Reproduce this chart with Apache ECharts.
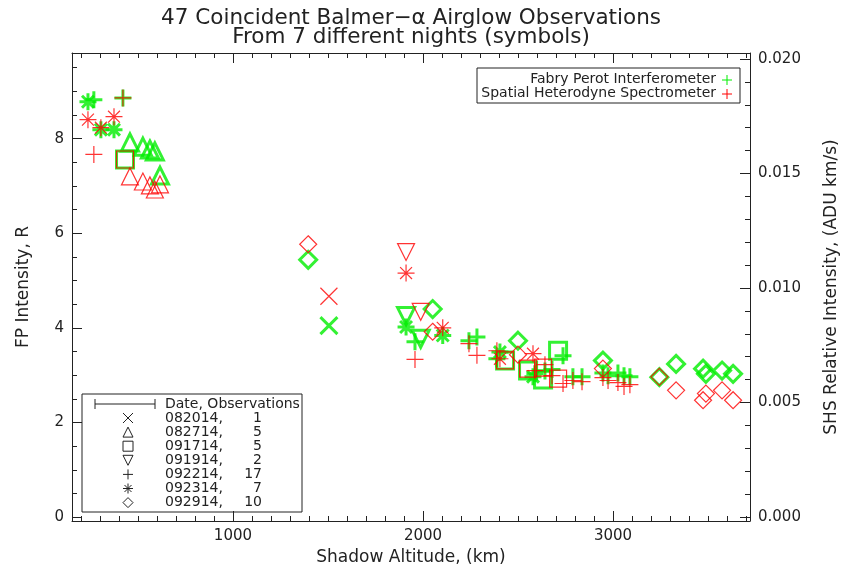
<!DOCTYPE html>
<html><head><meta charset="utf-8">
<script src="https://cdn.jsdelivr.net/npm/echarts@6/dist/echarts.min.js"></script>
<style>html,body{margin:0;padding:0;background:#fff}#c{width:851px;height:571px}</style>
</head><body><div id="c"></div>
<script>
// ---- data (altitude km, FP intensity R, SHS relative intensity) ----
const alt082014 = [1505];
const fp082014  = [4.05];
const shs082014 = [0.00964];

const alt082714 = [458, 526, 563, 589, 616];
const fp082714  = [7.92, 7.83, 7.77, 7.73, 7.22];
const shs082714 = [0.01487, 0.01465, 0.01448, 0.01430, 0.01452];

const alt091714 = [432, 2432, 2553, 2632, 2711];
const fp091714  = [7.56, 3.31, 3.10, 2.91, 3.52];
const shs091714 = [0.01561, 0.00684, 0.00648, 0.00652, 0.00604];

const alt091914 = [1911, 1988];
const fp091914  = [4.25, 3.77];
const shs091914 = [0.01157, 0.00896];

const alt092214 = [268, 421, 1958, 2242, 2284, 2389, 2589, 2642, 2679, 2737, 2789, 2837, 2947, 2974, 3026, 3058, 3089];
const fp092214  = [8.82, 8.86, 3.71, 3.73, 3.81, 3.35, 3.03, 3.09, 3.12, 3.41, 2.97, 2.97, 3.05, 2.99, 3.05, 2.99, 2.97];
const shs092214 = [0.01583, 0.01830, 0.00688, 0.00757, 0.00706, 0.00726, 0.00639, 0.00665, 0.00617, 0.00583, 0.00596, 0.00591, 0.00609, 0.00596, 0.00587, 0.00570, 0.00578];

const alt092314 = [237, 305, 374, 1911, 2104, 2405, 2579];
const fp092314  = [8.78, 8.19, 8.19, 4.02, 3.84, 3.49, 2.97];
const shs092314 = [0.01735, 0.01700, 0.01748, 0.01065, 0.00826, 0.00691, 0.00713];

const alt092914 = [1396, 2051, 2500, 2947, 3244, 3332, 3474, 3489, 3574, 3632];
const fp092914  = [5.44, 4.40, 3.73, 3.31, 2.96, 3.24, 3.14, 3.03, 3.10, 3.03];
const shs092914 = [0.01191, 0.00809, 0.00709, 0.00648, 0.00612, 0.00553, 0.00510, 0.00539, 0.00553, 0.00510];

const dates  = ['082014', '082714', '091714', '091914', '092214', '092314', '092914'];
const counts = [1, 5, 5, 2, 17, 7, 10];

const xTicks = [1000, 2000, 3000];
const yTicksFP = [0, 2, 4, 6, 8];
const yTicksSHS = [0, 0.005, 0.010, 0.015, 0.020];

// ---- styling ----
const P_X = 'path://M0,0L10,10M10,0L0,10';
const P_PLUS = 'path://M5,0L5,10M0,5L10,5';
const P_AST = 'path://M5,0L5,10M0,5L10,5M1.5,1.5L8.5,8.5M8.5,1.5L1.5,8.5';
const symDefs = [
  {sym: P_X, rot: 0, kind: 'x'},
  {sym: 'triangle', rot: 0, kind: 'tri'},
  {sym: 'rect', rot: 0, kind: 'sq'},
  {sym: 'triangle', rot: 180, kind: 'itri'},
  {sym: P_PLUS, rot: 0, kind: 'plus'},
  {sym: P_AST, rot: 0, kind: 'ast'},
  {sym: 'diamond', rot: 0, kind: 'dia'}
];
const groups = [
  [alt082014, fp082014, shs082014],
  [alt082714, fp082714, shs082714],
  [alt091714, fp091714, shs091714],
  [alt091914, fp091914, shs091914],
  [alt092214, fp092214, shs092214],
  [alt092314, fp092314, shs092314],
  [alt092914, fp092914, shs092914]
];
const GREEN = '#00ee00', RED = '#ff0000', INK = '#222';
const FONT = '"DejaVu Sans", sans-serif';

const XMIN = 153, XMAX = 3721;
const YMIN = -0.08, YMAX = 9.81;
const SMIN = -0.000174, SMAX = 0.02026;

function range(a, b, step, skip) {
  const out = [];
  for (let i = 0; a + i * step <= b + 1e-12; i++) {
    const v = +(a + i * step).toFixed(6);
    if (!skip.some(s => Math.abs(s - v) < 1e-9)) out.push(v);
  }
  return out;
}
const xMinor = range(200, 3700, 100, xTicks);
const yMinor = range(0.5, 9.5, 0.5, yTicksFP);
const sMinor = range(0.001, 0.020, 0.001, yTicksSHS);

const series = [];
groups.forEach((g, i) => {
  series.push({
    type: 'scatter', xAxisIndex: 0, yAxisIndex: 0,
    symbol: symDefs[i].sym, symbolRotate: symDefs[i].rot, symbolSize: 17,
    itemStyle: {color: 'rgba(0,0,0,0)', borderColor: GREEN, borderWidth: 3},
    data: g[0].map((x, k) => [x, g[1][k]]), z: 2, silent: true
  });
});
groups.forEach((g, i) => {
  series.push({
    type: 'scatter', xAxisIndex: 0, yAxisIndex: 2,
    symbol: symDefs[i].sym, symbolRotate: symDefs[i].rot, symbolSize: 17,
    itemStyle: {color: 'rgba(0,0,0,0)', borderColor: RED, borderWidth: 1.2},
    data: g[0].map((x, k) => [x, g[2][k]]), z: 3, silent: true
  });
});

const axLine = {show: true, onZero: false, lineStyle: {color: INK, width: 1}};
const noLine = {show: false, onZero: false};
const lbl = {color: INK, fontSize: 15, fontFamily: FONT};
function xa(pos, vals, len, labels, extra) {
  return Object.assign({
    type: 'value', position: pos, min: XMIN, max: XMAX,
    axisLine: extra && extra.line ? axLine : noLine,
    axisTick: {show: true, inside: true, length: len, customValues: vals, lineStyle: {color: INK}},
    axisLabel: labels ? Object.assign({show: true, customValues: vals, margin: 8, formatter: v => String(v)}, lbl) : {show: false},
    splitLine: {show: false}
  }, extra && extra.opt || {});
}
function ya(pos, mn, mx, vals, len, labels, extra) {
  return Object.assign({
    type: 'value', position: pos, min: mn, max: mx,
    axisLine: extra && extra.line ? axLine : noLine,
    axisTick: {show: true, inside: true, length: len, customValues: vals, lineStyle: {color: INK}},
    axisLabel: labels ? Object.assign({show: true, customValues: vals, margin: 8}, lbl, labels) : {show: false},
    splitLine: {show: false}
  }, extra && extra.opt || {});
}

// legend symbol builder (graphic elements)
function symEls(kind, cx, cy, r, color) {
  const st = {stroke: color, lineWidth: 1, fill: 'none'};
  const ln = (x1, y1, x2, y2) => ({type: 'line', shape: {x1: x1, y1: y1, x2: x2, y2: y2}, style: st});
  const pg = pts => ({type: 'polygon', shape: {points: pts}, style: st});
  switch (kind) {
    case 'x': return [ln(cx - r, cy - r, cx + r, cy + r), ln(cx + r, cy - r, cx - r, cy + r)];
    case 'plus': return [ln(cx, cy - r, cx, cy + r), ln(cx - r, cy, cx + r, cy)];
    case 'ast': { const d = r * 0.7; return [ln(cx, cy - r, cx, cy + r), ln(cx - r, cy, cx + r, cy), ln(cx - d, cy - d, cx + d, cy + d), ln(cx + d, cy - d, cx - d, cy + d)]; }
    case 'tri': return [pg([[cx, cy - r], [cx + r, cy + r], [cx - r, cy + r]])];
    case 'itri': return [pg([[cx - r, cy - r], [cx + r, cy - r], [cx, cy + r]])];
    case 'sq': return [pg([[cx - r, cy - r], [cx + r, cy - r], [cx + r, cy + r], [cx - r, cy + r]])];
    case 'dia': return [pg([[cx, cy - r], [cx + r, cy], [cx, cy + r], [cx - r, cy]])];
  }
  return [];
}
const txt = (t, x, y, align, size) => ({type: 'text', style: {text: t, x: x, y: y, textAlign: align, textVerticalAlign: 'middle', font: size + 'px ' + FONT, fill: INK}});

const gfx = [];
gfx.push(txt('47 Coincident Balmer−α Airglow Observations', 411, 18, 'center', 21.5));
gfx.push(txt('From 7 different nights (symbols)', 411, 37, 'center', 21.5));
// top-right legend
gfx.push({type: 'rect', shape: {x: 477, y: 68, width: 263, height: 35}, style: {fill: 'none', stroke: INK, lineWidth: 1}});
gfx.push(txt('Fabry Perot Interferometer', 716, 79, 'right', 14));
gfx.push(txt('Spatial Heterodyne Spectrometer', 716, 93, 'right', 14));
symEls('plus', 727, 80, 5, GREEN).forEach(e => gfx.push(e));
symEls('plus', 727, 94, 5, RED).forEach(e => gfx.push(e));
// bottom-left legend
gfx.push({type: 'rect', shape: {x: 82, y: 394, width: 220, height: 118}, style: {fill: 'none', stroke: INK, lineWidth: 1}});
gfx.push({type: 'line', shape: {x1: 95, y1: 404, x2: 155, y2: 404}, style: {stroke: INK, lineWidth: 1}});
gfx.push({type: 'line', shape: {x1: 95, y1: 399, x2: 95, y2: 409}, style: {stroke: INK, lineWidth: 1}});
gfx.push({type: 'line', shape: {x1: 155, y1: 399, x2: 155, y2: 409}, style: {stroke: INK, lineWidth: 1}});
gfx.push(txt('Date, Observations', 165, 404, 'left', 14));
dates.forEach((d, i) => {
  const y = 418 + i * 14.1;
  symEls(symDefs[i].kind, 128, y, 5, INK).forEach(e => gfx.push(e));
  gfx.push(txt(d + ',', 165, y, 'left', 14));
  gfx.push(txt(String(counts[i]), 262, y, 'right', 14));
});

const nameStyle = {color: INK, fontSize: 17, fontFamily: FONT};
const option = {
  backgroundColor: '#fff',
  animation: false,
  grid: {left: 72, right: 101, top: 53, bottom: 48, containLabel: false},
  xAxis: [
    xa('bottom', xTicks, 10, true, {line: true, opt: {name: 'Shadow Altitude, (km)', nameLocation: 'middle', nameGap: 28, nameTextStyle: nameStyle}}),
    xa('bottom', xMinor, 5, false),
    xa('top', xTicks, 10, false, {line: true}),
    xa('top', xMinor, 5, false)
  ],
  yAxis: [
    ya('left', YMIN, YMAX, yTicksFP, 10, {}, {line: true, opt: {name: 'FP Intensity, R', nameLocation: 'middle', nameGap: 40, nameRotate: 90, nameTextStyle: nameStyle}}),
    ya('left', YMIN, YMAX, yMinor, 5, false),
    ya('right', SMIN, SMAX, yTicksSHS, 10, {formatter: v => v.toFixed(3)}, {line: true, opt: {name: 'SHS Relative Intensity, (ADU km/s)', nameLocation: 'middle', nameGap: 73, nameRotate: 90, nameTextStyle: nameStyle}}),
    ya('right', SMIN, SMAX, sMinor, 5, false)
  ],
  series: series,
  graphic: gfx
};
const chart = echarts.init(document.getElementById('c'), null, {renderer: 'canvas'});
chart.setOption(option);
</script></body></html>
